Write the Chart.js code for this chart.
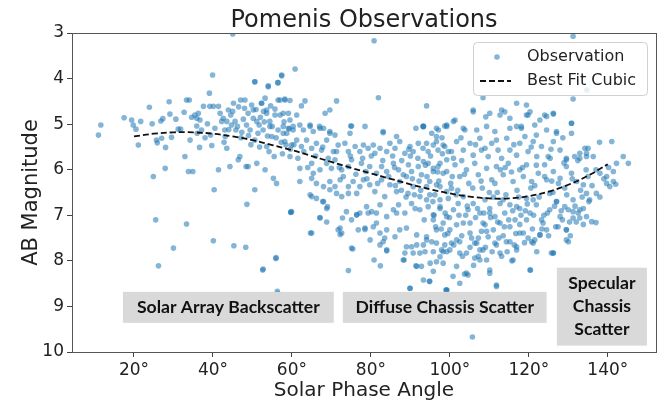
<!DOCTYPE html>
<html>
<head>
<meta charset="utf-8">
<script src="https://cdn.jsdelivr.net/npm/chart.js@4.4.1/dist/chart.umd.min.js"></script>
<style>
  html, body { margin: 0; padding: 0; background: #fff; }
  #wrap { width: 670px; height: 402px; }
</style>
</head>
<body>
<div id="wrap"><canvas id="grafico" width="670" height="402"></canvas></div>
<script>
// tick values
const xTicks = [20, 40, 60, 80, 100, 120, 140];
const yTicks = [3, 4, 5, 6, 7, 8, 9, 10];

// best fit cubic, read every 5 degrees
const fitAngle = [20, 25, 30, 35, 40, 45, 50, 55, 60, 65, 70, 75, 80, 85, 90, 95, 100, 105, 110, 115, 120, 125, 130, 135, 140];
const fitMag = [5.27, 5.21, 5.18, 5.18, 5.21, 5.27, 5.35, 5.46, 5.57, 5.70, 5.83, 5.96, 6.08, 6.20, 6.32, 6.43, 6.52, 6.59, 6.63, 6.63, 6.58, 6.48, 6.33, 6.13, 5.88];

// observations [angle, magnitude]
const obsBackscatter = [
  [11.0,5.24],[11.6,5.02],[25.5,7.10],[26.2,8.11],[30,7.72],[33.3,7.19],[40.1,7.56],[45,3.02],[45.3,7.67],[48.3,7.70],[48.6,6.76],[52.6,8.20],[55.9,7.95],[56.4,8.72],[59.7,6.94],
  [17.5,4.86],[19.4,4.91],[19.8,5.02],[20.5,5.11],[21.7,4.94],[21.1,5.46],[23.9,4.63],[24.6,4.99],[25.7,5.35],[25.9,5.41],[26.8,4.93],[27.3,4.88],[28,5.51],[27.9,5.97],[28.9,4.51],[29.1,4.78],[29.5,5.29],[27,5.31],[24.9,6.15],[30.6,4.89],
  [31.2,5.11],[31.8,5.11],[32.7,4.74],[32.9,5.71],[33.3,4.47],[34,4.47],[33.8,6.04],[34.9,6.04],[34.2,5.35],[34.6,4.85],[35.4,4.80],[35.9,4.87],[36.3,4.76],[36.7,4.91],[37.1,5.13],[36.6,5.51],[37.6,4.61],[38.6,4.99],[39.1,4.32],[39.2,4.61],
  [39.4,5.24],[39.9,3.92],[40.1,4.61],[39.7,5.47],[40.3,6.44],[41.4,4.61],[41.8,4.76],[42.2,4.94],[42.6,4.87],[43,5.13],[43.5,5.53],[43.9,4.69],[44.5,4.80],[44.7,5.02],[45.2,4.54],[45.6,4.94],[45.8,5.13],[46.4,5.78],[46.8,5.71],[47,4.47],
  [47.7,4.89],[48.1,4.47],[48.5,5.02],[48.9,4.76],[49.4,5.13],[48.4,5.93],[49.8,4.58],[50.2,4.87],[50.6,4.07],[50.6,5.35],[51.1,5.86],[51.7,5.02],[52.3,4.54],[52.7,5.13],[53.2,6.00],[53.6,4.69],[54,4.16],[54.4,4.94],[54.9,5.27],[55.3,6.19],
  [55.5,5.71],[56.1,6.30],[56.4,4.09],[56.5,4.47],[57,4.80],[57.4,3.92],[57.8,5.05],[58.2,4.47],[58.7,5.20],[59.1,4.76],[55.7,4.80],[53.8,5.26],[56.5,5.13],[58.5,5.46],[50.6,6.44],[41.4,6.00],[44.3,5.93],[48.9,5.93],[53.6,5.49],[47.1,5.30],
  [35.9,5.04],[40.5,5.09],[43.1,5.27],[46.2,5.05],[43.5,4.94],[46.5,4.62],[47.3,5.18],[49,5.25],[50.9,4.68],[51.4,5.2],[52,4.85],[53,4.95],[54.6,4.6],[55,5.05],[56,5.3],[57.3,5.4],[58,4.95],[59.3,5.1],[59.6,5.55],[57.6,5.65],
  [54.2,5.6],[51.8,5.5],[49.6,5.45],[42.8,5.4],[38,5.3],[36,5.2],[44,5.12],[45,4.72],[48,4.65],[52.8,4.72]
];

const obsDiffuse = [
  [57.8,5.20],[59.1,5.09],[60.3,5.05],[62,5.02],[62.9,5.13],[64.6,5.02],[65.4,5.16],[67,5.05],[68,5.09],[69.6,5.16],[70.9,5.24],[74.9,5.04],[78.5,5.05],[83.1,5.16],[86.5,5.27],[91.4,5.09],[93.2,5.05],[96.6,5.27],[98.7,5.04],
  [58.2,5.38],[59.9,5.46],[61.2,5.35],[62.4,5.49],[63.7,5.35],[65,5.53],[66.2,5.42],[67.5,5.57],[68.8,5.35],[70.5,5.60],[71.7,5.46],[73.4,5.42],[74.3,5.60],[76,5.49],[77.2,5.60],[78.1,5.46],[79.3,5.53],[80.6,5.46],[81,5.64],[82.3,5.53],
  [84,5.60],[84.8,5.42],[86.1,5.53],[87.3,5.38],[88.6,5.64],[89.9,5.49],[90.7,5.60],[92,5.42],[93.2,5.53],[94.5,5.60],[95.8,5.46],[97,5.57],[98.3,5.46],[99.6,5.60],
  [59.5,5.71],[62,5.97],[65,5.86],[65.4,6.08],[67.1,6.00],[68.8,5.86],[70,5.97],[70.9,5.78],[72.6,6.00],[74.3,5.93],[75.1,5.78],[77.6,5.86],[78.7,6.04],[79.7,5.93],[81.4,6.08],[82.7,5.93],[84,6.04],[85.7,5.86],[87,6.00],[88.2,6.11],
  [89.5,5.89],[90.3,6.04],[92,5.93],[92.8,6.11],[94.5,5.86],[95.8,6.04],[97,5.93],[98.3,6.08],[99.2,5.78],
  [62,6.26],[65,6.19],[66.2,6.30],[68,6.37],[69.6,6.26],[70.9,6.37],[72.2,6.22],[72.6,6.59],[74.3,6.37],[75.5,6.26],[77.2,6.37],[78.1,6.22],[79.7,6.33],[81,6.48],[82.7,6.22],[83.5,6.59],[84.8,6.33],[86.5,6.48],[87.3,6.26],[89.4,6.52],
  [90.7,6.37],[92.4,6.59],[94.1,6.37],[94.9,6.55],[96.6,6.33],[97.5,6.66],[99.2,6.48],[65,6.59],[59.9,6.92],
  [68,6.70],[68.8,6.85],[73.8,6.92],[75.1,7.10],[76.4,6.99],[78.9,6.81],[80.2,6.92],[82.3,6.77],[84,7.03],[85.7,6.88],[87,6.77],[88.6,6.95],[90.3,6.74],[92.4,6.88],[94.5,6.81],[95.8,6.99],[97.5,6.85],[99.2,7.03],[67.1,7.06],
  [65,7.39],[72.2,7.28],[72.6,7.39],[76.8,7.32],[78.5,7.28],[80.6,7.25],[82.3,7.39],[84,7.32],[86.1,7.47],[89,7.28],[91.6,7.43],[94.1,7.54],[96.6,7.32],[98.7,7.65],[75.1,7.72],[82.3,7.65],[90.3,7.69],[92.4,7.83],[95.8,7.80],[98.3,7.80],[88.6,7.83],
  [80.8,3.17],[60.8,3.79],[81.9,4.42],[50.6,4.07],[57.4,3.94],[56.5,4.09],[54,4.18],[53.2,4.43],[94.1,4.60],[71.3,4.49],[63.3,4.49],[62.4,4.60],[57,4.47],[58.2,4.45],[59.5,4.48],[52.3,4.54],[55.7,4.67],[50.2,4.69],[69.6,4.69],[68.4,4.76],
  [75.1,5.04],[83.1,5.19],[93.3,5.05],[96.6,5.09],[53.6,4.76],[57.8,4.76],[59.5,4.91],[61.2,4.80],[64.6,5.05],[67.1,5.09],[69.6,5.20],[74.7,5.20],[60.3,5.13],[54.4,5.05],[51.1,4.94],
  [52.7,8.18],[56,7.93],[56.3,8.67],[59.7,6.93],[64.7,7.39],[67.1,7.05],[68.8,7.15],[67.8,6.70],[69,6.81],[71.7,7.32],[72.2,7.42],[72.8,7.06],[74.3,8.21],[75.4,7.74],[76.4,6.99],[78.5,7.31],[80.8,7.98],[82.4,8.11],[84,7.78],[83.1,7.58],
  [83.5,7.50],[86.5,6.95],[88.4,7.98],[89.9,8.60],[91.4,8.11],[92.8,8.12],[94.9,8.45],[99.2,8.64],[96.6,8.02],[93.3,8.42],[64.6,6.55],[66.2,6.63],[71.3,6.52],[74.3,6.52],[76.4,6.52],[69.6,6.44],[77.2,6.95],[79.3,6.95],[81.4,6.95],[81.4,7.17],
  [79.8,7.54],[87.3,7.32],[89.0,7.69],[91.6,7.65],[93.7,7.80],[95.4,7.58],[97.9,7.76],
  [60.5,5.45],[61.5,5.75],[63,5.6],[64,5.95],[66,5.7],[67.8,5.5],[69.2,5.75],[71.3,5.6],[72,5.95],[73,6.15],[74.8,5.7],[76.2,6.1],[77.9,5.75],[79,6.2],[80.1,5.7],[81.7,6.3],[83,5.8],[84.5,6.15],[86,5.95],[87.7,6.45],
  [89,6.15],[90,5.7],[91,6.55],[92.2,6.25],[93.8,5.9]
];

const obsSpecular = [
  [105.9,4.73],[109.1,4.84],[112.7,4.80],[113.9,4.73],[119.4,4.80],[120.3,4.73],[124,4.80],[126.2,4.78],[130.8,4.98],[115.2,5.09],[116.9,5.05],[118.1,5.09],[121.5,5.02],[124.5,5.13],[127,5.16],[109.3,5.05],[111.4,5.16],[106.8,5.13],[103.4,5.09],[100.9,4.94],
  [99.2,5.02],[97.1,5.13],[93.3,5.05],[95.4,5.20],[134.2,5.53],
  [94.1,5.42],[96.6,5.38],[98.7,5.49],[100.4,5.60],[101.7,5.38],[103.4,5.57],[105.1,5.42],[105.9,5.68],[107.6,5.31],[108,5.57],[109.7,5.71],[110.6,5.42],[112.2,5.57],[113.1,5.75],[114.4,5.31],[115.2,5.57],[116.9,5.68],[117.7,5.42],[119,5.27],[119.8,5.60],
  [121.1,5.38],[122,5.71],[123.2,5.49],[124.9,5.71],[126.2,5.38],[127.9,5.57],[129.5,5.75],[131.6,5.71],[132.9,5.64],[134.6,5.71],[121.9,5.24],[108.9,5.53],
  [93.3,5.82],[95.8,5.97],[97.5,5.86],[99.2,6.04],[101.3,5.89],[102.5,6.15],[104.2,6.00],[106.3,5.86],[107.2,6.11],[109.3,5.97],[110.6,6.22],[111.8,5.93],[113.5,6.11],[114.8,5.86],[116,6.26],[117.7,6.00],[118.6,6.15],[119.4,5.89],[120.7,6.26],[122.4,6.08],
  [124,5.89],[124.5,6.22],[126.2,6.04],[127.9,6.19],[129.5,5.93],[130.8,6.08],[132.1,6.26],[133.8,6.33],[135,6.15],[94.9,6.26],[97.5,6.37],[100.4,6.41],
  [94.1,6.66],[96.2,6.55],[97.5,6.81],[99.6,6.63],[100.9,6.88],[102.1,6.74],[103.4,6.59],[104.6,6.88],[105.9,6.74],[107.6,6.95],[108.9,6.66],[110.1,6.85],[111.4,7.03],[112.7,6.74],[113.9,6.95],[115.2,6.77],[116.5,7.10],[117.7,6.85],[119.4,6.63],[120.3,6.95],
  [121.9,6.77],[123.2,7.10],[125.3,6.88],[127,6.70],[127.9,7.03],[130,6.88],[131.2,7.06],[132.9,6.88],[134.6,7.03],[95.8,7.10],[98.3,7.17],[101.7,7.21],[105.1,7.17],[108.9,7.21],[112.7,7.17],
  [94.1,7.47],[96.6,7.61],[98.7,7.43],[100,7.76],[102.5,7.58],[104.2,7.83],[106.3,7.61],[108.4,7.76],[109.7,7.47],[111.8,7.65],[115.2,7.58],[117.7,7.39],[120.7,7.58],[122.8,7.43],[124.5,7.32],[126.2,7.83],[129.5,7.32],[107.2,7.90],[113.1,7.90],
  [84,7.76],[88.2,7.98],[90.7,7.83],[93.3,7.65],[95.8,8.23],[97.5,7.91],[99.2,7.80],[100.4,7.61],[101.7,8.12],[102.5,7.83],[104.6,8.31],[106.3,7.94],[107.6,7.76],[109.3,7.98],[110.1,8.27],[111.4,7.61],[111.8,8.53],[116,7.98],[116.9,7.76],[120.3,8.20],
  [121.1,7.61],[126.2,7.83],[129.5,7.54],[89.9,8.60],[94.8,8.45],[99,8.64],[91.6,8.12],[95,8.05],
  [105.7,9.67],[111.8,8.56],[120.4,8.2],[125.7,7.83],[130,7.58],[135.9,7.14],[132.9,7.06],[131.2,6.92],[129.1,6.81],[127,6.70],[133.8,6.85],[132.5,6.95],[121.5,7.54],[122.8,7.43],[118.6,7.39],[116.9,7.69],[114.3,7.58],[112.7,7.83],[110.1,8.2],[107.6,7.98],
  [104.2,8.27],[102.5,8.49],[100.8,8.34],[99.2,8.64],[98.3,8.05],[139.7,6.30],[140.5,6.37],[134.6,6.52],[131.2,6.66],[125.3,6.52],[121.1,6.66],[116.9,6.81],[113.5,6.66],[110.1,6.95],[108.4,7.17],[105.1,7.39],[103.4,7.17],[101.7,7.54],[100,7.32],[106.8,7.61],
  [111,7.32],[115.2,7.25],[119.4,7.10],[123.6,7.17],[127.4,7.25],[129.5,7.32],[135.4,6.66],[137.1,6.52],[141.4,6.26],
  [131.2,3.07],[131.2,4.45],[108.4,4.42],[105.9,4.69],[99.2,5.05],[101.3,4.91],[103.8,5.13],[110.1,4.76],[113.1,4.69],[115.2,4.87],[118.1,5.05],[119.4,4.58],[119.8,4.80],[122.8,4.91],[124.5,4.83],[126.2,4.76],[127,5.20],[130.8,4.98],[130.8,5.20],[135,5.53],
  [141,5.38],[143.9,5.71],[145.2,5.86],[142.2,5.86],[141.4,6.04],[139.7,6.15],[138,6.08],[136.3,5.71],[134.6,5.64],[132.9,5.75],[129.5,5.78],[116.9,4.54],
  [134.7,4.25],[137.9,5.40],[142,6.32],[103.7,8.29],[115.7,8.00],[137,7.16],
  [85.5,5.7],[86.2,6.35],[87.8,5.8],[88.9,6.6],[89.6,5.55],[90.5,6.2],[91.2,6.85],[91.9,5.75],[92.6,6.45],[93.5,7.1],[94.2,6.15],[95.1,5.7],[95.7,6.7],[96.4,7.25],[97.2,6.25],[98.1,5.65],[98.8,6.95],[99.5,7.4],[100.2,6.3],[100.9,5.75],
  [101.6,6.55],[102.3,7.0],[103,7.45],[103.7,6.1],[104.4,6.8],[105.1,7.7],[105.8,6.4],[106.5,7.05],[107.2,7.5],[107.9,6.25],[108.6,6.95],[109.3,7.35],[110,6.5],[110.7,7.8],[111.4,6.3],[112.1,7.15],[112.8,6.0],[113.5,7.45],[114.2,6.55],[114.9,7.1],
  [115.6,6.05],[116.3,7.65],[117,6.45],[117.7,7.2],[118.4,5.95],[119.1,6.9],[119.8,7.5],[120.5,6.4],[121.2,7.0],[121.9,5.9],[122.6,6.6],[123.3,7.3],[124,6.15],[124.7,6.95],[125.4,5.75],[126.1,6.5],[126.8,7.25],[127.5,6.3],[128.2,6.9],[128.9,5.85],
  [129.6,6.55],[130.3,7.15],[131,6.2],[131.7,6.8],[132.4,5.8],[133.1,6.45],[133.8,7.2],[134.5,6.0],[135.2,6.7],[136,6.35],[137,6.0],[138,6.6],[139,6.2],[140.2,5.95],
  [96,7.0],[97.8,7.3],[99.9,7.05],[101,7.65],[102,6.45],[103.2,7.9],[104,7.0],[105.5,7.5],[106,8.1],[107,6.85],[108,7.35],[109,7.7],[110.3,7.05],[111,6.6],[112.4,7.5],[113.8,7.25],[114.5,7.8],[115.9,6.9],[116.7,7.4],[118,7.0],
  [118.9,7.6],[119.6,6.75],[120.9,7.3],[122,7.8],[123.8,7.0],[125,7.45],[126.5,6.8],[128.5,7.1],[130.5,7.45],[132,7.15],[96.9,6.05],[100.6,6.15],[104.8,6.3],[108.2,6.4],[112,6.5],[117.4,6.6],[121.5,6.35],[125.8,6.25],[129.1,6.4],[133.5,6.6],
  [98,5.3],[102.8,5.3],[106.5,5.45],[111.8,5.35],[116.2,5.45],[120.6,5.5],[125.6,5.55],[128.6,5.3],[103,5.8],[114,5.95]
];

// region labels: text lines and where they sit (angle / magnitude box)
const regionLines = [['Solar Array Backscatter'], ['Diffuse Chassis Scatter'], ['Specular', 'Chassis', 'Scatter']];
const regionBoxes = [
  { x0: 17.2, x1: 70.6, y0: 8.68, y1: 9.36 },
  { x0: 72.9, x1: 124.5, y0: 8.68, y1: 9.36 },
  { x0: 127.1, x1: 149.9, y0: 8.15, y1: 9.86 },
];

const corPonto = 'rgba(31,119,180,0.55)';
const fonte = '"DejaVu Sans", sans-serif';

const observacoes = obsBackscatter.concat(obsDiffuse, obsSpecular).map(([x, y]) => ({ x, y }));
const ajuste = fitAngle.map((x, i) => ({ x, y: fitMag[i] }));

const decoracao = {
  id: 'decoracao',
  beforeDraw(chart) {
    const ctx = chart.ctx;
    ctx.save();
    ctx.fillStyle = '#fff';
    ctx.fillRect(0, 0, chart.width, chart.height);
    ctx.restore();
  },
  afterDatasetsDraw(chart) {
    const { ctx, chartArea: a, scales: { x, y } } = chart;
    ctx.save();

    // region boxes
    regionBoxes.forEach((b, i) => {
      const l = x.getPixelForValue(b.x0), r = x.getPixelForValue(b.x1);
      const t = y.getPixelForValue(b.y0), bt = y.getPixelForValue(b.y1);
      ctx.fillStyle = '#d9d9d9';
      ctx.fillRect(l, t, r - l, bt - t);
      ctx.fillStyle = '#111';
      ctx.font = 'bold 17.6px Lato, sans-serif';
      ctx.textAlign = 'center';
      ctx.textBaseline = 'middle';
      const linhas = regionLines[i];
      const cy = (t + bt) / 2;
      linhas.forEach((txt, k) => {
        ctx.fillText(txt, (l + r) / 2, cy + (k - (linhas.length - 1) / 2) * 23);
      });
    });

    // frame
    ctx.strokeStyle = '#555';
    ctx.lineWidth = 1;
    ctx.strokeRect(a.left + 0.5, a.top + 0.5, a.right - a.left, a.bottom - a.top);

    // legend
    const lx = a.right - 183, ly = a.top + 9, lw = 174, lh = 53;
    ctx.beginPath();
    ctx.roundRect(lx + 0.5, ly + 0.5, lw, lh, 4);
    ctx.fillStyle = 'rgba(255,255,255,0.8)';
    ctx.fill();
    ctx.strokeStyle = '#d0d0d0';
    ctx.stroke();
    ctx.fillStyle = corPonto;
    ctx.beginPath();
    ctx.arc(lx + 24, ly + 15, 2.8, 0, Math.PI * 2);
    ctx.fill();
    ctx.strokeStyle = '#111';
    ctx.lineWidth = 1.8;
    ctx.setLineDash([6, 3]);
    ctx.beginPath();
    ctx.moveTo(lx + 7, ly + 39);
    ctx.lineTo(lx + 38, ly + 39);
    ctx.stroke();
    ctx.setLineDash([]);
    ctx.fillStyle = '#222';
    ctx.font = '16px ' + fonte;
    ctx.textAlign = 'left';
    ctx.textBaseline = 'middle';
    ctx.fillText('Observation', lx + 54, ly + 15);
    ctx.fillText('Best Fit Cubic', lx + 54, ly + 39);

    // title and axis titles
    ctx.fillStyle = '#222';
    ctx.textAlign = 'center';
    ctx.textBaseline = 'alphabetic';
    ctx.font = '24px ' + fonte;
    ctx.fillText('Pomenis Observations', (a.left + a.right) / 2, 27);
    ctx.font = '20px ' + fonte;
    ctx.fillText('Solar Phase Angle', (a.left + a.right) / 2, 396);
    ctx.translate(37, (a.top + a.bottom) / 2);
    ctx.rotate(-Math.PI / 2);
    ctx.font = '21px ' + fonte;
    ctx.fillText('AB Magnitude', 0, 0);
    ctx.restore();
  }
};

new Chart(document.getElementById('grafico').getContext('2d'), {
  type: 'scatter',
  data: {
    datasets: [
      {
        label: 'Best Fit Cubic',
        type: 'line',
        data: ajuste,
        borderColor: '#111',
        borderWidth: 1.8,
        borderDash: [6, 3],
        pointRadius: 0,
        tension: 0.4,
        fill: false,
        order: 0,
      },
      {
        label: 'Observation',
        data: observacoes,
        backgroundColor: corPonto,
        borderWidth: 0,
        pointRadius: 2.8,
        order: 1,
      },
    ],
  },
  options: {
    responsive: false,
    animation: false,
    devicePixelRatio: 1,
    layout: { padding: { top: 33, right: 14, left: 0, bottom: 0 } },
    plugins: { legend: { display: false }, title: { display: false }, tooltip: { enabled: false } },
    scales: {
      x: {
        type: 'linear',
        min: 4.3,
        max: 152.2,
        afterBuildTicks: (s) => { s.ticks = xTicks.map(v => ({ value: v })); },
        afterFit: (s) => { s.height = 50; },
        grid: { drawOnChartArea: false, tickLength: 5, color: '#444' },
        border: { display: false },
        ticks: { color: '#222', padding: 3, font: { family: fonte, size: 17 }, callback: v => v + '°', maxRotation: 0 },
      },
      y: {
        type: 'linear',
        reverse: true,
        min: 3,
        max: 10,
        afterBuildTicks: (s) => { s.ticks = yTicks.map(v => ({ value: v })); },
        afterFit: (s) => { s.width = 72; },
        grid: { drawOnChartArea: false, tickLength: 5, color: '#444' },
        border: { display: false },
        ticks: { color: '#222', padding: 3, font: { family: fonte, size: 17 } },
      },
    },
  },
  plugins: [decoracao],
});
</script>
</body>
</html>
